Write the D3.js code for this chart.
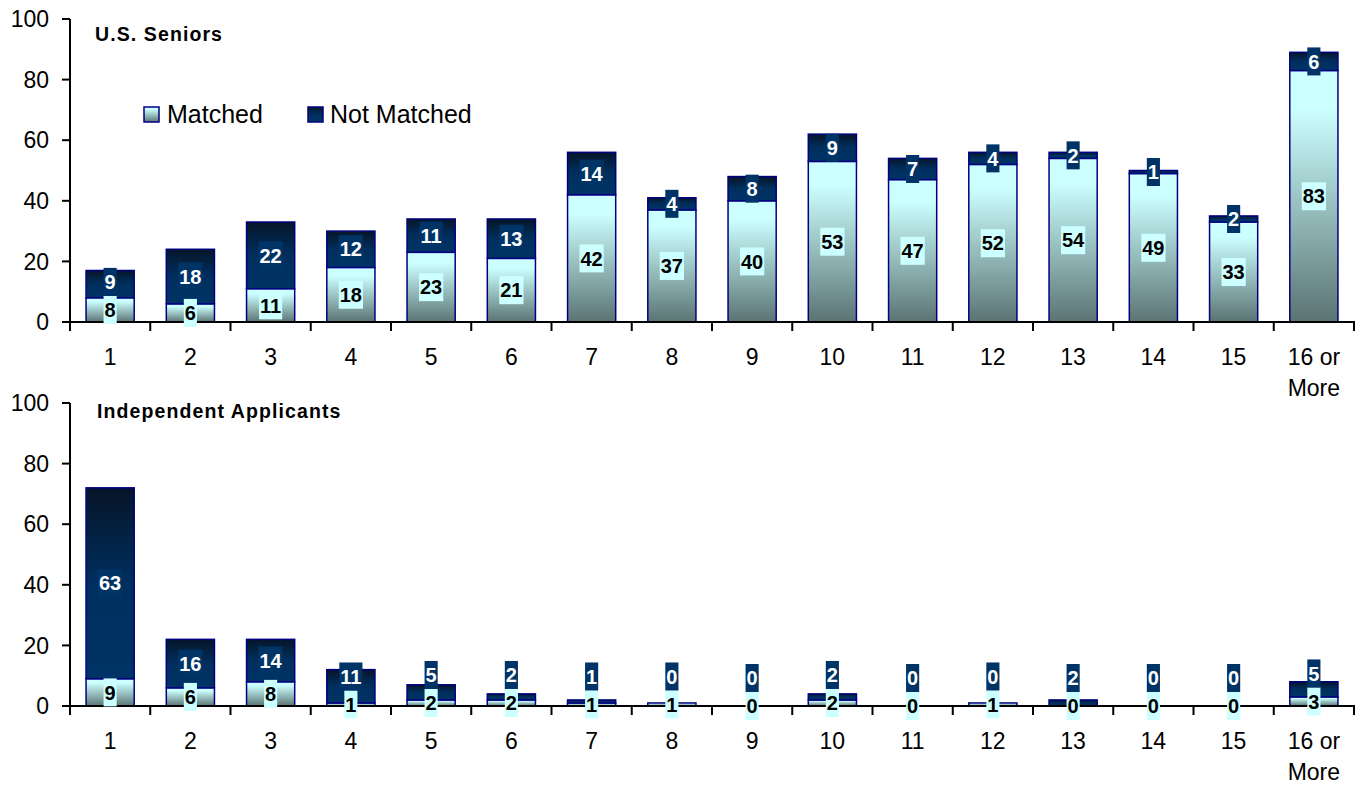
<!DOCTYPE html>
<html>
<head>
<meta charset="utf-8">
<script src="https://cdn.jsdelivr.net/npm/d3@7"></script>
<style>
  html, body { margin: 0; padding: 0; background: #fff; }
  svg { display: block; font-family: "Liberation Sans", Arial, sans-serif; }
</style>
</head>
<body>
<svg id="chart" width="1359" height="785"></svg>
<script>
// ---- data ----
const categories = ["1","2","3","4","5","6","7","8","9","10","11","12","13","14","15","16 or\nMore"];
const seniorsMatched    = [8, 6, 11, 18, 23, 21, 42, 37, 40, 53, 47, 52, 54, 49, 33, 83];
const seniorsNotMatched = [9, 18, 22, 12, 11, 13, 14, 4, 8, 9, 7, 4, 2, 1, 2, 6];
const indepMatched      = [9, 6, 8, 1, 2, 2, 1, 1, 0, 2, 0, 1, 0, 0, 0, 3];
const indepNotMatched   = [63, 16, 14, 11, 5, 2, 1, 0, 0, 2, 0, 0, 2, 0, 0, 5];
const yTicks = [0, 20, 40, 60, 80, 100];
const seriesNames = ["Matched", "Not Matched"];
const panelTitles = ["U.S. Seniors", "Independent Applicants"];

// ---- setup ----
const svg = d3.select("#chart");
const defs = svg.append("defs");
const gm = defs.append("linearGradient").attr("id", "gMatched").attr("x1", 0).attr("y1", 0).attr("x2", 0).attr("y2", 1);
gm.append("stop").attr("offset", 0).attr("stop-color", "#ccffff");
gm.append("stop").attr("offset", 0.15).attr("stop-color", "#ccffff");
gm.append("stop").attr("offset", 1).attr("stop-color", "#5b7373");
const gn = defs.append("linearGradient").attr("id", "gNot").attr("x1", 0).attr("y1", 0).attr("x2", 0).attr("y2", 1);
gn.append("stop").attr("offset", 0).attr("stop-color", "#061528");
gn.append("stop").attr("offset", 0.5).attr("stop-color", "#002f5e");
gn.append("stop").attr("offset", 1).attr("stop-color", "#003366");

const xLeft = 70, xRight = 1354;
const x = d3.scaleBand().domain(categories).range([xLeft, xRight]).paddingInner(0.4).paddingOuter(0.2);
const step = x.step();

const panels = [
  { title: panelTitles[0], data: { m: seniorsMatched, n: seniorsNotMatched }, top: 19, bottom: 322, titleX: 95, titleY: 41, legend: true },
  { title: panelTitles[1], data: { m: indepMatched, n: indepNotMatched }, top: 403, bottom: 706, titleX: 97, titleY: 418, legend: false }
];

panels.forEach(p => {
  const y = d3.scaleLinear().domain([0, 100]).range([p.bottom, p.top]);
  const g = svg.append("g");

  // bars
  categories.forEach((c, i) => {
    const m = p.data.m[i], n = p.data.n[i];
    const bx = x(c), bw = x.bandwidth();
    if (m > 0) {
      g.append("rect").attr("x", bx).attr("y", y(m)).attr("width", bw).attr("height", y(0) - y(m))
        .attr("fill", "url(#gMatched)").attr("stroke", "#000080").attr("stroke-width", 1.5);
    }
    if (n > 0) {
      g.append("rect").attr("x", bx).attr("y", y(m + n)).attr("width", bw).attr("height", y(m) - y(m + n))
        .attr("fill", "url(#gNot)").attr("stroke", "#000080").attr("stroke-width", 1.5);
    }
  });

  // axes
  g.append("line").attr("x1", xLeft).attr("x2", xLeft).attr("y1", y(100)).attr("y2", y(0))
    .attr("stroke", "#000").attr("stroke-width", 2);
  g.append("line").attr("x1", xLeft).attr("x2", xRight + 1).attr("y1", y(0)).attr("y2", y(0))
    .attr("stroke", "#000").attr("stroke-width", 2);
  yTicks.forEach(t => {
    g.append("line").attr("x1", xLeft - 8).attr("x2", xLeft).attr("y1", y(t)).attr("y2", y(t))
      .attr("stroke", "#000").attr("stroke-width", 2);
    g.append("text").attr("x", 49).attr("y", y(t)).attr("dy", "0.36em").attr("text-anchor", "end")
      .attr("font-size", 23).attr("fill", "#000").text(t);
  });
  for (let i = 0; i <= categories.length; i++) {
    const tx = xLeft + i * step;
    g.append("line").attr("x1", tx).attr("x2", tx).attr("y1", y(0)).attr("y2", y(0) + 9)
      .attr("stroke", "#000").attr("stroke-width", 2);
  }
  categories.forEach(c => {
    const lines = c.split("\n");
    const t = g.append("text").attr("x", x(c) + x.bandwidth() / 2).attr("y", y(0) + 43)
      .attr("text-anchor", "middle").attr("font-size", 23).attr("fill", "#000");
    lines.forEach((l, k) => t.append("tspan").attr("x", x(c) + x.bandwidth() / 2).attr("dy", k === 0 ? 0 : 31).text(l));
  });

  // title
  g.append("text").attr("x", p.titleX).attr("y", p.titleY).attr("font-size", 19.5).attr("font-weight", "bold")
    .attr("letter-spacing", 1.1).attr("fill", "#000").text(p.title);

  // data labels
  const boxH = 28;
  function label(cx, cy, val, bg, fg) {
    const lg = g.append("g");
    const r = lg.append("rect").attr("fill", bg);
    const t = lg.append("text").attr("x", cx).attr("y", cy).attr("dy", "0.36em").attr("text-anchor", "middle")
      .attr("font-size", 20).attr("font-weight", "bold").attr("fill", fg).text(val);
    const w = t.node().getComputedTextLength() + 2;
    r.attr("x", cx - w / 2).attr("y", cy - boxH / 2).attr("width", w).attr("height", boxH);
  }
  categories.forEach((c, i) => {
    const m = p.data.m[i], n = p.data.n[i];
    const cx = x(c) + x.bandwidth() / 2;
    const mcy = y(m / 2);
    const ncy = Math.min(y(m + n / 2), mcy - boxH);
    label(cx, mcy, m, "#ccffff", "#000");
    label(cx, ncy, n, "#003366", "#fff");
  });

  // legend
  if (p.legend) {
    const items = [
      { name: seriesNames[0], fill: "url(#gMatched)", sx: 144, tx: 167 },
      { name: seriesNames[1], fill: "url(#gNot)", sx: 308, tx: 330 }
    ];
    items.forEach(it => {
      g.append("rect").attr("x", it.sx).attr("y", 107).attr("width", 15).attr("height", 15)
        .attr("fill", it.fill).attr("stroke", "#000080").attr("stroke-width", 1.5);
      g.append("text").attr("x", it.tx).attr("y", 123).attr("font-size", 25).attr("fill", "#000").text(it.name);
    });
  }
});
</script>
</body>
</html>
